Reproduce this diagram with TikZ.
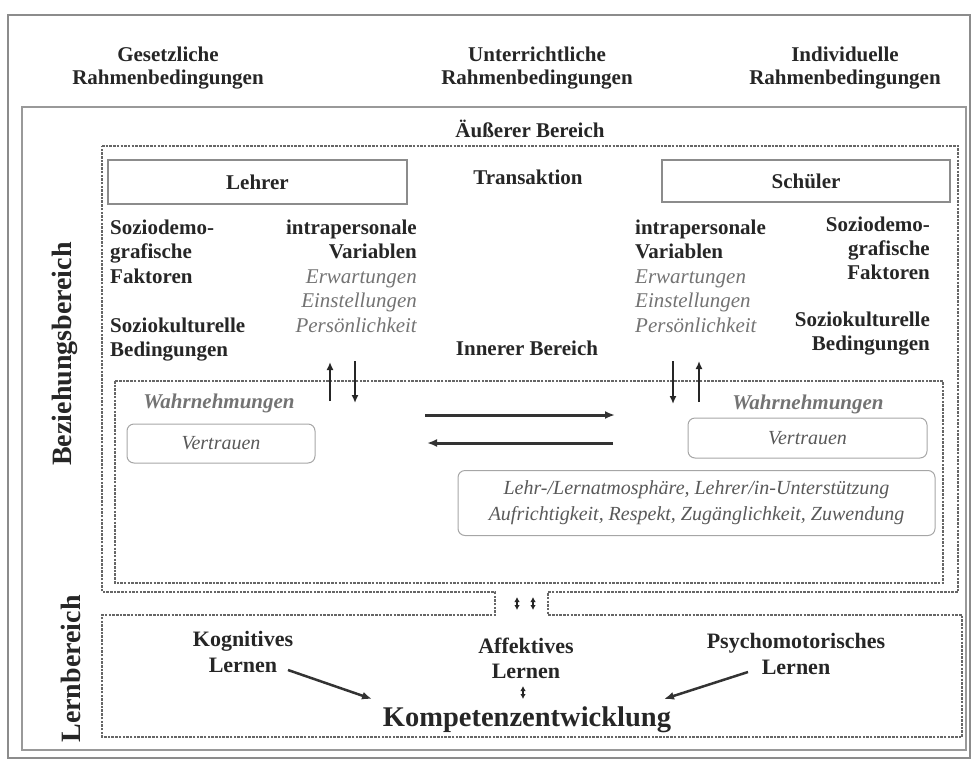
\documentclass[tikz,border=0pt]{standalone}
\usepackage{fontspec}
\setmainfont{Liberation Serif}
\usepackage{tikz}
\usetikzlibrary{positioning,arrows.meta}
\tikzset{
  head text/.style={font=\bfseries\fontsize{21}{23}\selectfont,text=black!85,inner sep=0pt,align=center},
  body text/.style={font=\bfseries\fontsize{21}{24.5}\selectfont,text=black!85,inner sep=0pt},
  var text/.style={font=\bfseries\itshape\fontsize{21}{24.5}\selectfont,text=black!55,inner sep=0pt},
  side text/.style={font=\bfseries\fontsize{28}{30}\selectfont,text=black!85,inner sep=0pt,rotate=90},
  role node/.style={draw=black!45,line width=1.3pt,inner sep=0pt,font=\bfseries\fontsize{21}{24}\selectfont,text=black!85},
  soft node/.style={draw=black!35,line width=1pt,rounded corners=7pt,inner sep=0pt,font=\itshape\fontsize{20}{26}\selectfont,text=black!65,align=center},
  area/.style={draw=black!60,line width=1.3pt,dash pattern=on 2.5pt off 1.2pt},
  frame/.style={draw=black!40,line width=1.5pt},
  flow/.style={draw=black!80,line width=3pt,-{Latex[length=10pt,width=8pt]}},
  pair arrow/.style={draw=black!85,line width=2pt,-{Latex[length=8pt,width=7pt]}},
  tiny arrow/.style={draw=black!85,line width=1.3pt,{Latex[length=5pt,width=5.5pt]}-{Latex[length=5pt,width=5.5pt]}}
}

\begin{document}
\begin{tikzpicture}[x=1pt,y=-1pt]
  \useasboundingbox (0,0) rectangle (974,763);

  % frames
  \draw[frame,line width=2.5pt,black!45] (8,15) rectangle (970,758);
  \draw[frame] (22,107) rectangle (966,750);
  \draw[area] (102,146) -- (958,146) -- (958,592) -- (548,592) -- (548,615) -- (962,615)
    -- (962,737) -- (102,737) -- (102,615) -- (495,615) -- (495,592) -- (102,592) -- cycle;
  \draw[area] (115,381) rectangle (943,583);

  % Rahmenbedingungen
  \node[head text,anchor=north] (gesetz) at (168,45) {\strut Gesetzliche\\Rahmenbedingungen};
  \node[head text,anchor=north] (unterricht) at (537,45) {\strut Unterrichtliche\\Rahmenbedingungen};
  \node[head text,anchor=north] (individuell) at (845,45) {\strut Individuelle\\Rahmenbedingungen};

  \node[side text] (bez) at (65,354) {Beziehungsbereich};
  \node[side text] (lern) at (71,669) {Lernbereich};

  % Aeusserer Bereich
  \node[body text,anchor=base] (aussen) at (530,137) {Äußerer Bereich};
  \node[body text,anchor=base] (trans) at (528,184) {Transaktion};
  \node[body text,anchor=base] (innen) at (527,355) {Innerer Bereich};

  \node[role node,minimum width=299pt,minimum height=44pt] (lehrer) at (257.5,182) {Lehrer};
  \node[role node,minimum width=288pt,minimum height=42pt] (schueler) at (806,181) {Schüler};

  \node[body text,anchor=north west,align=left] (l sozdem) at (110,217) {\strut Soziodemo-\\grafische\\Faktoren};
  \node[body text,anchor=north west,align=left] (l sozkult) at (110,315) {\strut Soziokulturelle\\Bedingungen};
  \node[body text,anchor=north east,align=right] (l intra) at (417,217)
    {\strut intrapersonale\\Variablen\\{\mdseries\itshape\color{black!55}Erwartungen}\\{\mdseries\itshape\color{black!55}Einstellungen}\\{\mdseries\itshape\color{black!55}Persönlichkeit}};

  \node[body text,anchor=north west,align=left] (s intra) at (635,217)
    {\strut intrapersonale\\Variablen\\{\mdseries\itshape\color{black!55}Erwartungen}\\{\mdseries\itshape\color{black!55}Einstellungen}\\{\mdseries\itshape\color{black!55}Persönlichkeit}};
  \node[body text,anchor=north east,align=right,font=\bfseries\fontsize{21}{24}\selectfont] (s sozdem) at (930,214) {\strut Soziodemo-\\grafische\\Faktoren};
  \node[body text,anchor=north east,align=right,font=\bfseries\fontsize{21}{24}\selectfont] (s sozkult) at (930,309) {\strut Soziokulturelle\\Bedingungen};

  % Innerer Bereich
  \node[var text,anchor=base] (l wahr) at (219,408) {Wahrnehmungen};
  \node[var text,anchor=base] (s wahr) at (808,409) {Wahrnehmungen};
  \node[soft node,minimum width=188pt,minimum height=39pt] (l vertrauen) at (221,443.5) {Vertrauen};
  \node[soft node,minimum width=239pt,minimum height=40pt] (s vertrauen) at (807.5,438) {Vertrauen};
  \node[soft node,minimum width=477pt,minimum height=65pt] (klima) at (696.5,503)
    {Lehr-/Lernatmosphäre, Lehrer/in-Unterstützung\\Aufrichtigkeit, Respekt, Zugänglichkeit, Zuwendung};

  \coordinate (l up a) at (330,401);   \coordinate (l up b) at (330,362);
  \coordinate (l down a) at (355,361); \coordinate (l down b) at (355,403);
  \coordinate (s down a) at (673,361); \coordinate (s down b) at (673,404);
  \coordinate (s up a) at (699,402);   \coordinate (s up b) at (699,361);
  \coordinate (t right a) at (425,415); \coordinate (t right b) at (615,415);
  \coordinate (t left a) at (613,443);  \coordinate (t left b) at (427,443);

  \path
  (l up a) edge[pair arrow] (l up b)
  (l down a) edge[pair arrow] (l down b)
  (s down a) edge[pair arrow] (s down b)
  (s up a) edge[pair arrow] (s up b)
  (t right a) edge[flow] (t right b)
  (t left a) edge[flow] (t left b);

  % Lernbereich
  \coordinate (neck a1) at (517,597); \coordinate (neck a2) at (517,610);
  \coordinate (neck b1) at (533,597); \coordinate (neck b2) at (533,610);
  \path (neck a1) edge[tiny arrow] (neck a2) (neck b1) edge[tiny arrow] (neck b2);

  \node[body text,anchor=north,align=center,font=\bfseries\fontsize{22}{26.5}\selectfont] (kog) at (243,627.5) {\strut Kognitives\\Lernen};
  \node[body text,anchor=north,align=center,font=\bfseries\fontsize{22}{25.5}\selectfont] (aff) at (526,635) {\strut Affektives\\Lernen};
  \node[body text,anchor=north,align=center,font=\bfseries\fontsize{22}{26}\selectfont] (psy) at (796,630) {\strut Psychomotorisches\\Lernen};
  \node[body text,anchor=base,font=\bfseries\fontsize{28.5}{30}\selectfont] (komp) at (527,726) {Kompetenzentwicklung};

  \coordinate (kog a) at (288,670); \coordinate (kog b) at (372,699);
  \coordinate (psy a) at (748,672); \coordinate (psy b) at (664,699);
  \coordinate (aff a) at (523,686); \coordinate (aff b) at (523,699);
  \path
  (kog a) edge[flow,line width=2.5pt] (kog b)
  (psy a) edge[flow,line width=2.5pt] (psy b)
  (aff a) edge[tiny arrow] (aff b);
\end{tikzpicture}
\end{document}
